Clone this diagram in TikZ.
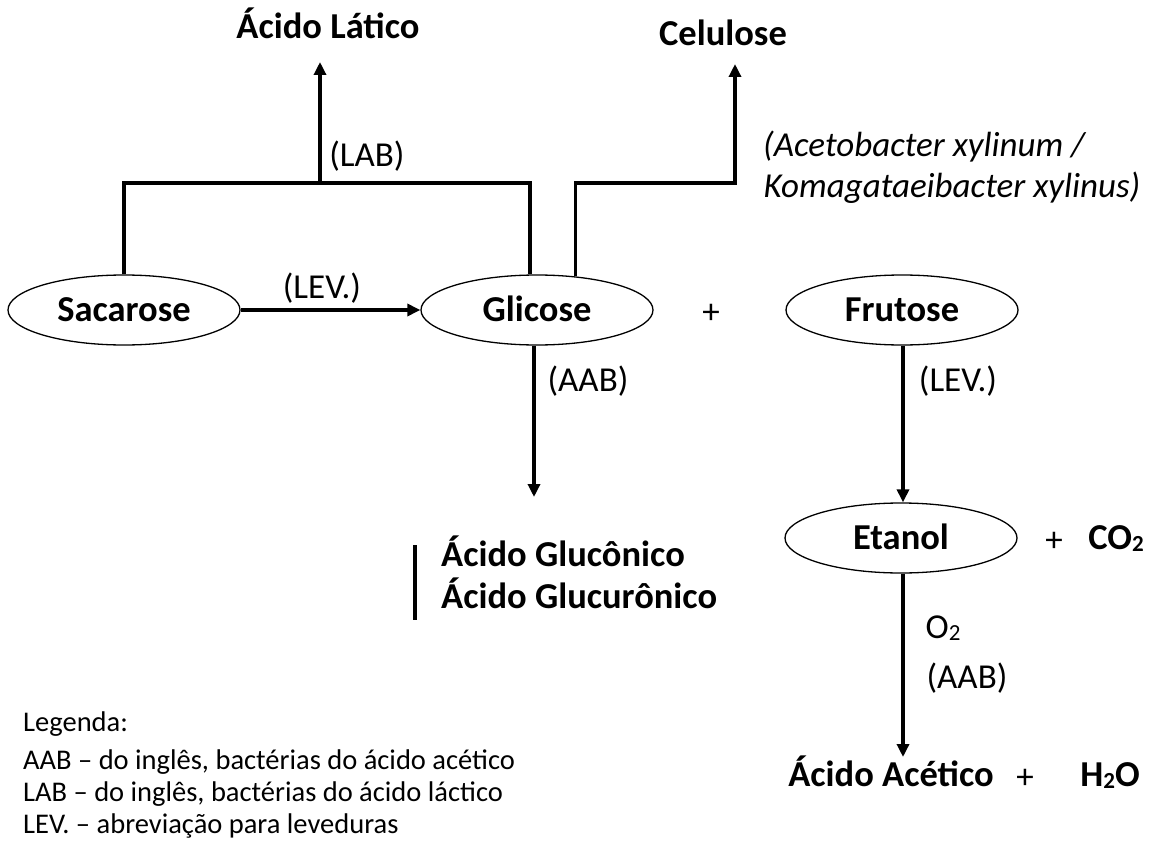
\documentclass[tikz,border=0pt]{standalone}
\usepackage{fontspec}
\setmainfont{Carlito}
\usetikzlibrary{shapes.geometric,arrows.meta}
\newcommand\bfbig{\fontsize{36.5}{44}\selectfont\bfseries}
\newcommand\lblfont{\fontsize{35}{42}\selectfont}
\newcommand\legfont{\fontsize{28.5}{34}\selectfont}
\newcommand\subtwo{{\fontsize{23}{25}\selectfont\raisebox{-2pt}{2}}}
\tikzset{
  ell/.style={ellipse, draw, line width=1.3pt, minimum width=232pt, minimum height=70pt, inner sep=0pt, font=\bfbig, text height=23pt, text depth=0pt},
  conn/.style={line width=3.5pt},
  arr/.style={conn, -{Triangle[length=13pt,width=12pt]}},
  bold/.style={font=\bfbig, inner sep=0pt, text height=23pt, text depth=0pt},
  lbl/.style={font=\lblfont, inner sep=0pt, text height=22pt, text depth=0pt},
  leg/.style={font=\legfont, anchor=west, inner sep=0pt, text height=18pt, text depth=0pt}
}
\begin{document}
\begin{tikzpicture}[x=1pt,y=-1pt]
\useasboundingbox (0,0) rectangle (1157,843);
% nodes
\node[ell] (sac) at (124,310) {Sacarose};
\node[ell] (gli) at (537,310) {Glicose};
\node[lbl] (plus1) at (711,312) {+};
\node[ell] (fru) at (902,310) {Frutose};
\node[ell] (eta) at (901,538) {Etanol};
\node[lbl] (plus2) at (1054,540) {+};
\node[bold] (co2) at (1116,538) {CO\subtwo};
\node[bold] (lat) at (328,27) {Ácido Lático};
\node[bold] (cel) at (723,34) {Celulose};
\node[bold, anchor=west] (glu1) at (441,555) {Ácido Glucônico};
\node[bold, anchor=west] (glu2) at (441,597) {Ácido Glucurônico};
\node[bold] (acet) at (891,775) {Ácido Acético};
\node[lbl] (plus3) at (1025,777) {+};
\node[bold] (h2o) at (1110,775) {H\subtwo O};
% labels
\node[lbl] (levA) at (322,287) {(LEV.)};
\node[lbl] (lab) at (367,155) {(LAB)};
\node[lbl, font=\lblfont\itshape] (bac1) at (924,145) {(Acetobacter xylinum /};
\node[lbl, font=\lblfont\itshape] (bac2) at (952,186) {Komagataeibacter xylinus)};
\node[lbl] (aabA) at (588,380) {(AAB)};
\node[lbl] (levB) at (958,380) {(LEV.)};
\node[lbl] (o2) at (943,627) {O\subtwo};
\node[lbl] (aabB) at (967,677) {(AAB)};
% legend
\node[leg] (leg0) at (23,722) {Legenda:};
\node[leg] (leg1) at (23,760) {AAB – do inglês, bactérias do ácido acético};
\node[leg] (leg2) at (23,792) {LAB – do inglês, bactérias do ácido láctico};
\node[leg] (leg3) at (23,824) {LEV. – abreviação para leveduras};
% coordinates
\coordinate (jl) at (320,183);
\coordinate (jr) at (735,183);
\coordinate (latend) at (320,62);
\coordinate (celend) at (735,64);
\coordinate (gdown) at (534,497);
\coordinate (acend) at (903,757);
\coordinate (bar1) at (415,545);
\coordinate (bar2) at (415,620);
% connectors
\draw[conn] (sac.north) |- (jl) -| ([xshift=-7pt]gli.north);
\draw[arr] (jl) -- (latend);
\draw[arr] (gli.41) |- (jr) -- (celend);
\draw[arr] (sac.east) -- (gli.west);
\draw[arr] (gli.south -| gdown) -- (gdown);
\draw[conn] (bar1) -- (bar2);
\draw[arr] ([xshift=1pt]fru.south) -- (eta.north -| {903,0});
\draw[arr] (eta.south -| acend) -- (acend);
\end{tikzpicture}
\end{document}
